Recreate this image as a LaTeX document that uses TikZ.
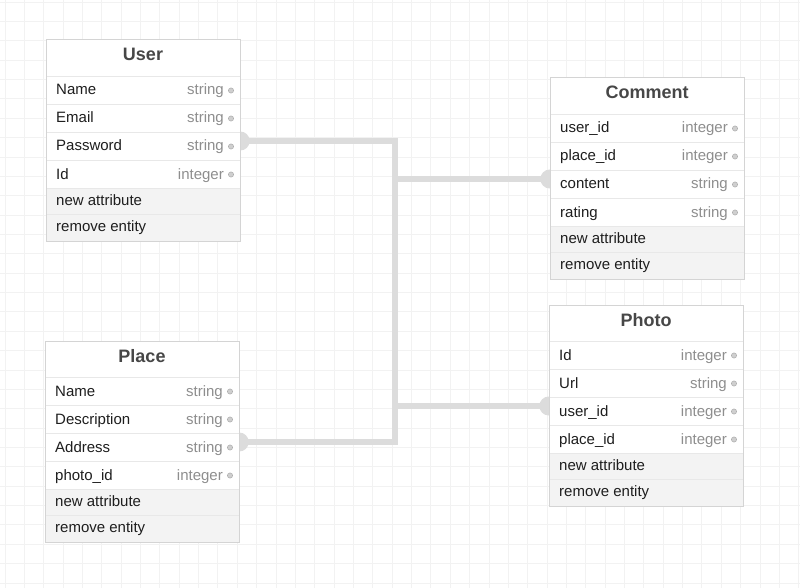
\documentclass[tikz,border=0pt]{standalone}
\usepackage{fontspec}
\setmainfont{Liberation Sans}
\usetikzlibrary{calc}
\pgfdeclarelayer{gridlayer}
\pgfdeclarelayer{connlayer}
\pgfsetlayers{gridlayer,connlayer,main}
\definecolor{gridcol}{HTML}{F2F2F2}
\definecolor{conncol}{HTML}{DCDCDC}
\definecolor{bordercol}{HTML}{D4D4D4}
\definecolor{sepcol}{HTML}{E8E8E8}
\definecolor{actcol}{HTML}{F3F3F3}
\definecolor{titlecol}{HTML}{474747}
\definecolor{namecol}{HTML}{1E1E1E}
\definecolor{typecol}{HTML}{8E8E8E}
\definecolor{dotfill}{HTML}{CFCFCF}
\definecolor{dotdraw}{HTML}{ADADAD}
\tikzset{
  gridline/.style={draw=gridcol, line width=1pt},
  conn/.style={draw=conncol, line width=6pt},
  conncap/.style={fill=conncol},
  border/.style={draw=bordercol, line width=1pt},
  sepline/.style={draw=sepcol, line width=0.9pt},
  rowbox/.style={minimum width=194pt, minimum height=28pt, inner sep=0pt},
  titletext/.style={anchor=base, inner sep=0pt, text=titlecol, font=\fontsize{18}{21}\selectfont\bfseries},
  nametext/.style={anchor=base west, inner sep=0pt, text=namecol, font=\fontsize{15}{18}\selectfont},
  typetext/.style={anchor=base east, inner sep=0pt, text=typecol, font=\fontsize{15}{18}\selectfont},
  acttext/.style={anchor=base west, inner sep=0pt, text=namecol, font=\fontsize{15}{18}\selectfont},
  attrdot/.style={fill=dotfill, draw=dotdraw, line width=0.5pt},
}
\newcommand{\erdtable}[5]{%
\begin{scope}[shift={(#2,#3)}]
  \fill[white] (0,0) rectangle (194,201);
  \node[titletext] (#1) at (97,21) {#4};
  \foreach \a/\t [count=\i] in {#5}{
    \pgfmathsetmacro\ytop{36.5+28*(\i-1)}
    \node[rowbox] (#1-\i) at (97,\ytop+14) {};
    \draw[sepline] (0,\ytop) -- (194,\ytop);
    \node[nametext] at (10,\ytop+18.5) {\a};
    \node[typetext] at (178,\ytop+18.5) {\t};
    \filldraw[attrdot] (185,\ytop+14) circle (2.6pt);
  }
  \fill[actcol] (0,148.5) rectangle (194,201);
  \draw[sepline] (0,148.5) -- (194,148.5);
  \draw[sepline] (0,174.75) -- (194,174.75);
  \node[acttext] (#1-new) at (10,165) {new attribute};
  \node[acttext] (#1-rm) at (10,191.25) {remove entity};
  \draw[border] (0,0) rectangle (194,201);
\end{scope}}
\begin{document}
\begin{tikzpicture}[x=1pt,y=-1pt]
  \useasboundingbox (0,0) rectangle (800,588);
  \begin{pgfonlayer}{gridlayer}
    \fill[white] (0,0) rectangle (800,588);
    \foreach \i in {0,...,41} \draw[gridline] ({5+19.36*\i},0) -- ({5+19.36*\i},588);
    \foreach \j in {0,...,30} \draw[gridline] (0,{2.2+19.36*\j}) -- (800,{2.2+19.36*\j});
  \end{pgfonlayer}

  \erdtable{User}{46}{40}{User}{Name/string, Email/string, Password/string, Id/integer}
  \erdtable{Comment}{550}{78}{Comment}{user\_id/integer, place\_id/integer, content/string, rating/string}
  \erdtable{Place}{45}{341}{Place}{Name/string, Description/string, Address/string, photo\_id/integer}
  \erdtable{Photo}{549}{305}{Photo}{Id/integer, Url/string, user\_id/integer, place\_id/integer}

  \coordinate (eUser) at ([yshift=5.5pt]User-3.east);
  \coordinate (ePlace) at ([yshift=5.5pt]Place-3.east);
  \coordinate (eComment) at ([yshift=5.5pt]Comment-3.west);
  \coordinate (ePhoto) at ([yshift=5.5pt]Photo-3.west);
  \coordinate (bus) at (395,300);

  \begin{pgfonlayer}{connlayer}
    \draw[conn] (eUser) -| (bus) |- (ePlace);
    \draw[conn] (eComment) -- (bus |- eComment);
    \draw[conn] (ePhoto) -- (bus |- ePhoto);
    \foreach \e in {eUser,ePlace,eComment,ePhoto}
      \fill[conncap] (\e) circle (9.5pt);
  \end{pgfonlayer}
\end{tikzpicture}
\end{document}
